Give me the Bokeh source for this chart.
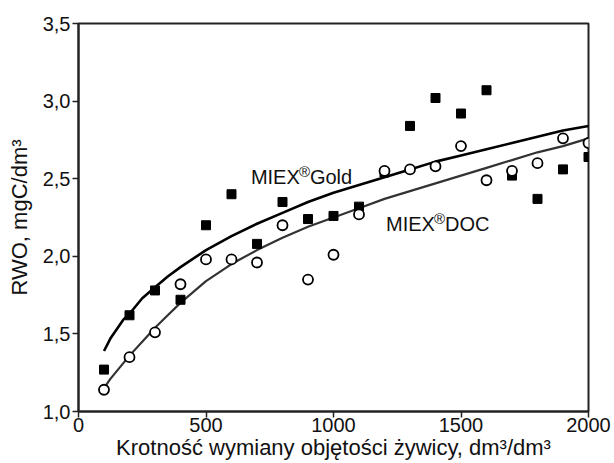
from bokeh.plotting import figure
from bokeh.models import Range1d, FixedTicker, CustomJSTickFormatter, Label
from bokeh.embed import file_html
from bokeh.resources import INLINE

# exchanged resin volume multiples
krotnosc = [100, 200, 300, 400, 500, 600, 700, 800, 900, 1000,
            1100, 1200, 1300, 1400, 1500, 1600, 1700, 1800, 1900, 2000]
# MIEX Gold (filled squares)
rwo_gold = [1.27, 1.62, 1.78, 1.72, 2.20, 2.40, 2.08, 2.35, 2.24, 2.26,
            2.32, 2.54, 2.84, 3.02, 2.92, 3.07, 2.52, 2.37, 2.56, 2.64]
# MIEX DOC (open circles)
rwo_doc = [1.14, 1.35, 1.51, 1.82, 1.98, 1.98, 1.96, 2.20, 1.85, 2.01,
           2.27, 2.55, 2.56, 2.58, 2.71, 2.49, 2.55, 2.60, 2.76, 2.73]

# trend curves
trend_x = [100, 125, 150, 175, 200, 250, 300, 350, 400, 500, 600, 700, 800, 900, 1000,
           1100, 1200, 1300, 1400, 1500, 1600, 1700, 1800, 1900, 2000]
trend_gold = [1.39, 1.47, 1.53, 1.59, 1.63, 1.73, 1.80, 1.87, 1.93, 2.04, 2.13, 2.21, 2.28, 2.35, 2.41,
              2.46, 2.51, 2.56, 2.61, 2.65, 2.69, 2.73, 2.77, 2.81, 2.84]
trend_doc = [1.15, 1.21, 1.26, 1.31, 1.36, 1.45, 1.54, 1.62, 1.70, 1.84, 1.95, 2.04, 2.12, 2.19, 2.25,
             2.31, 2.37, 2.42, 2.47, 2.52, 2.57, 2.62, 2.67, 2.71, 2.76]

x_ticks = [0, 500, 1000, 1500, 2000]
y_ticks = [1.0, 1.5, 2.0, 2.5, 3.0, 3.5]

FONT = "Liberation Sans"

p = figure(width=614, height=463, output_backend="svg", toolbar_location=None,
           x_range=Range1d(0, 2000), y_range=Range1d(1.0, 3.5),
           min_border_left=78, min_border_right=26, min_border_top=23, min_border_bottom=52)
p.background_fill_color = "white"
p.border_fill_color = "white"
p.outline_line_color = "#222222"
p.outline_line_width = 2
p.xgrid.visible = False
p.ygrid.visible = False

for ax in (p.xaxis[0], p.yaxis[0]):
    ax.axis_line_color = "#222222"
    ax.axis_line_width = 2
    ax.major_tick_line_color = "#222222"
    ax.major_tick_line_width = 1.5
    ax.major_tick_in = 0
    ax.major_tick_out = 6
    ax.minor_tick_line_color = None
    ax.major_label_text_font = FONT
    ax.major_label_text_font_size = "20px"
    ax.major_label_text_color = "#111111"
    ax.axis_label_text_font = FONT
    ax.axis_label_text_font_size = "22px"
    ax.axis_label_text_font_style = "normal"
    ax.axis_label_text_color = "#111111"
    ax.major_label_standoff = 2

p.xaxis.ticker = FixedTicker(ticks=x_ticks)
p.yaxis.ticker = FixedTicker(ticks=y_ticks)
p.yaxis.formatter = CustomJSTickFormatter(code="return tick.toFixed(1).replace('.', ',');")
p.xaxis.axis_label = "Krotność wymiany objętości żywicy, dm³/dm³"
p.yaxis.axis_label = "RWO, mgC/dm³"
p.xaxis.axis_label_standoff = 0
p.xaxis.major_label_standoff = 0
p.yaxis.axis_label_standoff = 8

p.line(trend_x, trend_gold, line_color="black", line_width=2.6)
p.line(trend_x, trend_doc, line_color="#333333", line_width=2.2)

p.scatter(krotnosc, rwo_gold, marker="square", size=9, fill_color="black", line_color="black")
p.scatter(krotnosc, rwo_doc, marker="circle", size=10, fill_color="white",
          line_color="black", line_width=1.8)

def sup_label(x, y, a, b):
    p.add_layout(Label(x=x, y=y, text=a, text_font=FONT, text_font_size="20px",
                       text_color="#111111", text_baseline="alphabetic"))
    p.add_layout(Label(x=x, y=y, x_offset=48, y_offset=6, text="®", text_font=FONT,
                       text_font_size="15px", text_color="#111111", text_baseline="alphabetic"))
    p.add_layout(Label(x=x, y=y, x_offset=59, text=b, text_font=FONT, text_font_size="20px",
                       text_color="#111111", text_baseline="alphabetic"))

sup_label(676, 2.508, "MIEX", "Gold")
sup_label(1206, 2.205, "MIEX", "DOC")

open("out.html", "w").write(file_html(p, INLINE))
